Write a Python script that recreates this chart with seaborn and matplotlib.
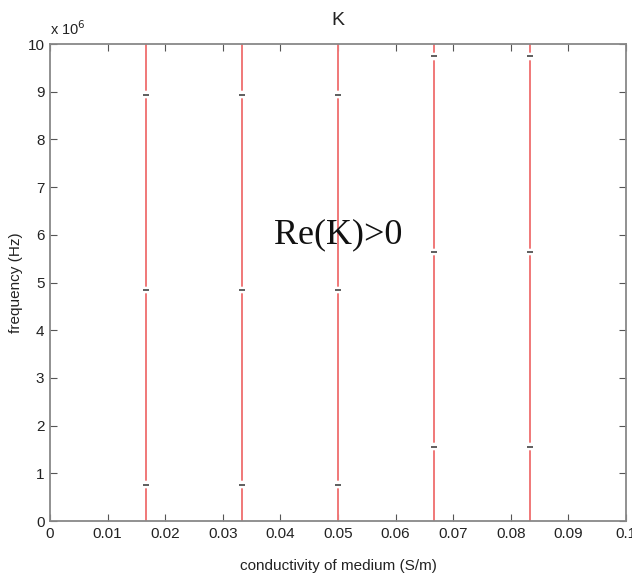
import matplotlib
matplotlib.use("Agg")
import matplotlib.pyplot as plt
import seaborn as sns
import numpy as np
import pandas as pd

# Data
conductivity = [1/60, 2/60, 3/60, 4/60, 5/60]          # S/m, contour positions
label_freqs = [                                          # contour label (gap) positions, Hz
    [0.76e6, 4.84e6, 8.94e6],
    [0.76e6, 4.84e6, 8.94e6],
    [0.76e6, 4.84e6, 8.94e6],
    [1.56e6, 5.64e6, 9.74e6],
    [1.56e6, 5.64e6, 9.74e6],
]
freq_min, freq_max = 0.0, 10e6
x_ticks = [0, 0.01, 0.02, 0.03, 0.04, 0.05, 0.06, 0.07, 0.08, 0.09, 0.1]
x_tick_labels = ["0", "0.01", "0.02", "0.03", "0.04", "0.05", "0.06", "0.07", "0.08", "0.09", "0.1"]
y_ticks = [0, 1, 2, 3, 4, 5, 6, 7, 8, 9, 10]
gap_half = 0.09e6

sns.set_style("ticks")
plt.rcParams['font.family'] = ['Liberation Sans', 'DejaVu Sans']

# build segments (line broken at label positions)
rows = []
seg_id = 0
for xi, gaps in zip(conductivity, label_freqs):
    edges = [freq_min] + [v for g in gaps for v in (g - gap_half, g + gap_half)] + [freq_max]
    for a, b in zip(edges[0::2], edges[1::2]):
        rows.append({"x": xi, "y": a / 1e6, "seg": seg_id})
        rows.append({"x": xi, "y": b / 1e6, "seg": seg_id})
        seg_id += 1
df = pd.DataFrame(rows)

fig = plt.figure(figsize=(6.32, 5.74), dpi=100)
ax = fig.add_axes([0.0791, 0.0923, 0.9114, 0.831])

sns.lineplot(data=df, x="x", y="y", units="seg", estimator=None, sort=False,
             color="#f07878", lw=1.4, ax=ax, legend=False)

lab = pd.DataFrame([{"x": xi, "y": g / 1e6} for xi, gaps in zip(conductivity, label_freqs) for g in gaps])
sns.scatterplot(data=lab, x="x", y="y", marker="_", s=20, color="#333333",
                linewidth=1.1, ax=ax, legend=False, zorder=5)

ax.set_xlim(0, 0.1)
ax.set_ylim(0, 10)
ax.set_xticks(x_ticks)
ax.set_xticklabels(x_tick_labels)
ax.set_yticks(y_ticks)
ax.set_yticklabels([str(v) for v in y_ticks])
ax.tick_params(direction="in", length=5, top=True, right=True, labelsize=11,
               color="#555555", labelcolor="#222222", pad=4)
for s in ax.spines.values():
    s.set_color("#888888")
    s.set_linewidth(1.3)

ax.set_xlabel("conductivity of medium (S/m)", fontsize=11, color="#222222", labelpad=13)
ax.set_ylabel("frequency (Hz)", fontsize=11, color="#222222", labelpad=3)
ax.set_title("K", fontsize=14, color="#222222", pad=14)

ax.text(0.0, 1.012, r"x 10$^6$", transform=ax.transAxes, fontsize=10.5, color="#222222",
        ha="left", va="bottom")
ax.text(0.05, 6.0, "Re(K)>0", fontsize=26, family=["Liberation Serif", "DejaVu Serif"],
        ha="center", va="center", color="#111111")

fig.savefig("out.png", dpi=100)
